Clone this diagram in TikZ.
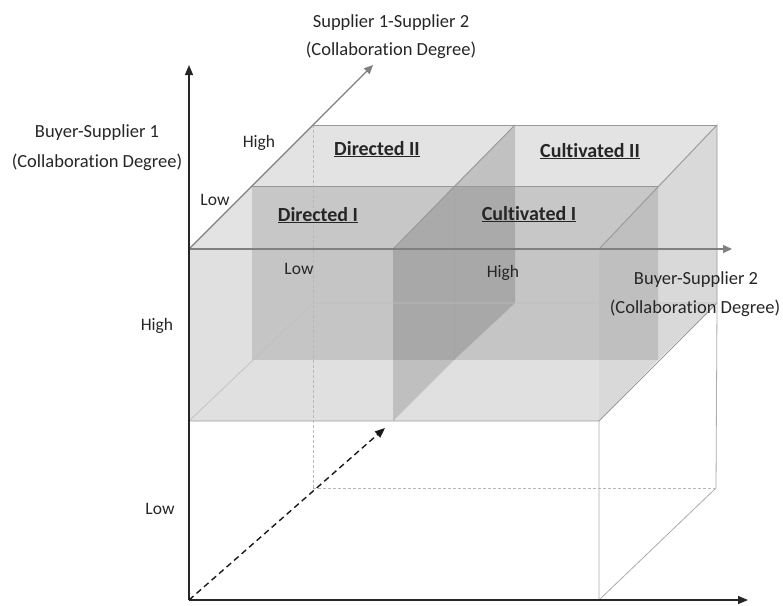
\documentclass[tikz,border=0pt]{standalone}
\usepackage{fontspec}
\setmainfont{Carlito}[Ligatures=NoCommon]
\usetikzlibrary{arrows.meta}
% bold label with a heavy underline
\newcommand{\ulcell}[1]{\setbox0\hbox{#1}\rlap{\rule[-2.4pt]{\wd0}{1.5pt}}\box0}
% a see-through box: near-left, near-right, far-left, far-right corner suffixes
\newcommand{\glassbox}[4]{%
  \fill[frontface] (T#1) -- (T#2) -- (B#2) -- (B#1) -- cycle;
  \fill[topface] (T#1) -- (T#2) -- (T#4) -- (T#3) -- cycle;
  \fill[sideface] (T#2) -- (T#4) -- (B#4) -- (B#2) -- cycle;}
\begin{document}
\begin{tikzpicture}[x=1pt,y=-1pt,
  edge/.style={draw=black!40,line width=0.9pt},
  faint/.style={draw=black!25,line width=0.7pt},
  boxline/.style={draw=black!33,line width=0.8pt},
  hidden/.style={draw=black!28,line width=0.7pt,dash pattern=on 3pt off 2pt},
  frontface/.style={fill=black,fill opacity=0.12},
  topface/.style={fill=black,fill opacity=0.11},
  sideface/.style={fill=black,fill opacity=0.15},
  mainaxis/.style={draw=black!85,line width=1.4pt,-{Triangle[length=10pt,width=8pt]}},
  subaxis/.style={draw=black!50,line width=1.4pt,-{Triangle[length=9pt,width=8pt]}},
  dashaxis/.style={draw=black!90,line width=1.4pt,dash pattern=on 6pt off 4pt,-{Triangle[length=10pt,width=8pt]}},
  lbl/.style={font=\fontsize{18.5}{22}\selectfont,text=black!85,inner sep=0pt},
  tick/.style={font=\fontsize{17.5}{20}\selectfont,text=black!85,inner sep=0pt},
  cell/.style={font=\fontsize{20}{24}\selectfont\bfseries,text=black!85,inner sep=0pt,anchor=base}]
\useasboundingbox (0,0) rectangle (783,605);

% corners of the shaded slab: T = top, B = bottom; first digit = depth, second = column
\coordinate (T01) at (189,249); \coordinate (T02) at (393,249); \coordinate (T03) at (599,249);
\coordinate (B01) at (189,421); \coordinate (B02) at (393,421); \coordinate (B03) at (599,421);
\coordinate (T11) at (252,186); \coordinate (T12) at (454,186); \coordinate (T13) at (658,186);
\coordinate (B11) at (252,360); \coordinate (B12) at (454,360); \coordinate (B13) at (658,360);
\coordinate (T21) at (313,125); \coordinate (T22) at (515,125); \coordinate (T23) at (717,125);
\coordinate (B21) at (313,303); \coordinate (B22) at (515,303); \coordinate (B23) at (717,303);
% lower (white) part of the cube
\coordinate (O) at (189,600);
\coordinate (F3) at (599,600);
\coordinate (G1) at (313,488);
\coordinate (G3) at (716,488);
% axis ends
\coordinate (Yend) at (189,65);
\coordinate (Xend) at (748,600);
\coordinate (Zend) at (373,65);
\coordinate (Wend) at (732,249);
\coordinate (Dend) at (385,428);

% four see-through boxes
\glassbox{11}{12}{21}{22}
\glassbox{12}{13}{22}{23}
\glassbox{01}{02}{11}{12}
\glassbox{02}{03}{12}{13}

% slab edges
\draw[edge] (T11) -- (T13);
\draw[edge] (T21) -- (T23);
\draw[edge] (T02) -- (T22);
\draw[edge] (T03) -- (T23) -- (B23);
\draw[edge] (B01) -- (B03) -- (B23);
\draw[faint] (B01) -- (B21) -- (B23);

% lower box edges
\draw[boxline] (B03) -- (F3) -- (G3) -- (B23);
\draw[hidden] (G1) -- (G3);
\draw[hidden] (T21) -- (G1);

% axes
\draw[subaxis] (T01) -- (Zend);
\draw[subaxis] (T01) -- (Wend);
\draw[mainaxis] (O) -- (Yend);
\draw[mainaxis] (O) -- (Xend);
\draw[dashaxis] (O) -- (Dend);

% axis titles
\node[lbl] (s12a) at (391,23) {Supplier 1-Supplier 2};
\node[lbl] (s12b) at (391,50) {(Collaboration Degree)};
\node[lbl] (bs1a) at (97,133) {Buyer-Supplier 1};
\node[lbl] (bs1b) at (97,162) {(Collaboration Degree)};
\node[lbl] (bs2a) at (696,280) {Buyer-Supplier 2};
\node[lbl] (bs2b) at (695,308) {(Collaboration Degree)};

% level marks
\node[tick] (zhigh) at (259,143) {High};
\node[tick] (zlow) at (215,200) {Low};
\node[tick] (xlow) at (299,269) {Low};
\node[tick] (xhigh) at (503,273) {High};
\node[tick] (yhigh) at (157,326) {High};
\node[tick] (ylow) at (160,509) {Low};

% cells
\node[cell] (dir2) at (377,155) {\ulcell{Directed II}};
\node[cell] (dir1) at (318,221) {\ulcell{Directed I}};
\node[cell] (cul2) at (590,157) {\ulcell{Cultivated II}};
\node[cell] (cul1) at (529,220) {\ulcell{Cultivated I}};
\end{tikzpicture}
\end{document}
